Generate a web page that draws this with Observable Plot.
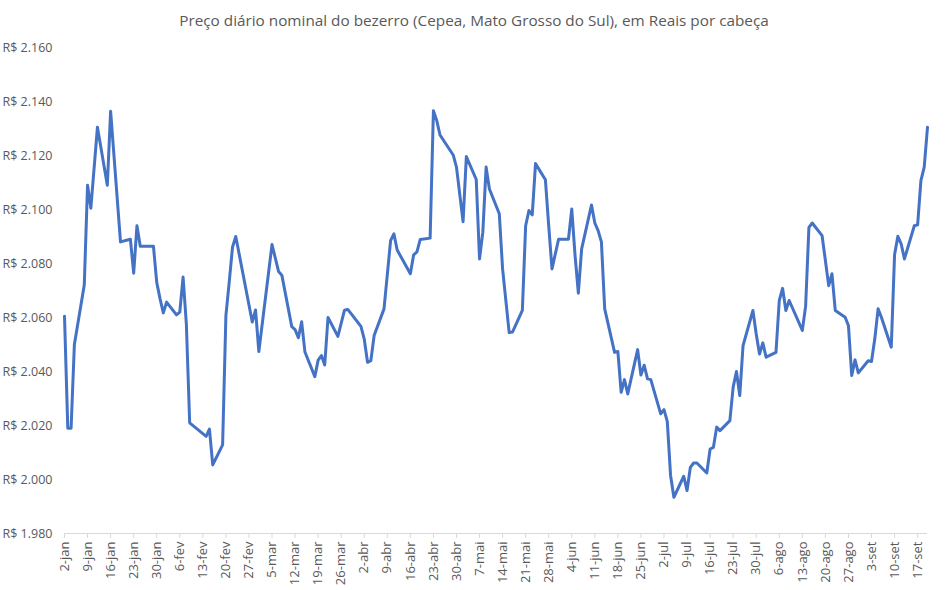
<!DOCTYPE html>
<html>
<head>
<meta charset="utf-8">
<script src="https://cdn.jsdelivr.net/npm/d3@7"></script>
<script src="https://cdn.jsdelivr.net/npm/@observablehq/plot@0.6"></script>
<style>
  html, body { margin: 0; padding: 0; background: #fff; }
  #title { width: 948px; height: 32px; padding-top: 8px; box-sizing: border-box; line-height: 24px;
           text-align: center; font-family: "Open Sans", sans-serif; font-size: 15.3px; color: #595959; }
</style>
</head>
<body>
<div id="title">Preço diário nominal do bezerro (Cepea, Mato Grosso do Sul), em Reais por cabeça</div>
<div id="chart"></div>
<script>
const dates = [
  "2024-01-02","2024-01-03","2024-01-04","2024-01-05","2024-01-08","2024-01-09","2024-01-10","2024-01-12",
  "2024-01-15","2024-01-16","2024-01-19","2024-01-22","2024-01-23","2024-01-24","2024-01-25","2024-01-29",
  "2024-01-30","2024-01-31","2024-02-01","2024-02-02","2024-02-05","2024-02-06","2024-02-07","2024-02-08",
  "2024-02-09","2024-02-14","2024-02-15","2024-02-16","2024-02-19","2024-02-20","2024-02-21","2024-02-22",
  "2024-02-23","2024-02-28","2024-02-29","2024-03-01","2024-03-05","2024-03-07","2024-03-08","2024-03-11",
  "2024-03-12","2024-03-13","2024-03-14","2024-03-15","2024-03-18","2024-03-19","2024-03-20","2024-03-21",
  "2024-03-22","2024-03-25","2024-03-27","2024-03-28","2024-04-01","2024-04-02","2024-04-03","2024-04-04",
  "2024-04-05","2024-04-08","2024-04-10","2024-04-11","2024-04-12","2024-04-16","2024-04-17","2024-04-18",
  "2024-04-19","2024-04-22","2024-04-23","2024-04-24","2024-04-25","2024-04-29","2024-04-30","2024-05-02",
  "2024-05-03","2024-05-06","2024-05-07","2024-05-08","2024-05-09","2024-05-10","2024-05-13","2024-05-14",
  "2024-05-16","2024-05-17","2024-05-20","2024-05-21","2024-05-22","2024-05-23","2024-05-24","2024-05-27",
  "2024-05-28","2024-05-29","2024-05-31","2024-06-03","2024-06-04","2024-06-05","2024-06-06","2024-06-07",
  "2024-06-10","2024-06-11","2024-06-12","2024-06-13","2024-06-14","2024-06-17","2024-06-18","2024-06-19",
  "2024-06-20","2024-06-21","2024-06-24","2024-06-25","2024-06-26","2024-06-27","2024-06-28","2024-07-01",
  "2024-07-02","2024-07-03","2024-07-04","2024-07-05","2024-07-08","2024-07-09","2024-07-10","2024-07-11",
  "2024-07-12","2024-07-15","2024-07-16","2024-07-17","2024-07-18","2024-07-19","2024-07-22","2024-07-23",
  "2024-07-24","2024-07-25","2024-07-26","2024-07-29","2024-07-30","2024-07-31","2024-08-01","2024-08-02",
  "2024-08-05","2024-08-06","2024-08-07","2024-08-08","2024-08-09","2024-08-13","2024-08-14","2024-08-15",
  "2024-08-16","2024-08-19","2024-08-20","2024-08-21","2024-08-22","2024-08-23","2024-08-26","2024-08-27",
  "2024-08-28","2024-08-29","2024-08-30","2024-09-02","2024-09-03","2024-09-04","2024-09-05","2024-09-06",
  "2024-09-09","2024-09-10","2024-09-11","2024-09-12","2024-09-13","2024-09-16","2024-09-17","2024-09-18",
  "2024-09-19","2024-09-20"
];
const prices = [
  2060.5,2019,2019,2050,2072,2109,2100.5,2130.5,
  2109,2136.4,2088,2089,2076.4,2094,2086.4,2086.4,
  2073,2067,2061.7,2065.7,2061,2062,2075,2057.5,
  2021,2016,2018.7,2005.4,2012.8,2060.7,2073,2086,
  2090,2058.3,2062.8,2047.4,2087,2077,2075.6,2056.6,
  2055.5,2052.5,2058.4,2047.2,2038.1,2044.2,2045.9,2042.4,
  2060,2053,2062.7,2063,2056.7,2052,2043.4,2044,
  2053.3,2063.2,2088.5,2091,2085,2076.2,2083.2,2084.3,
  2088.9,2089.4,2136.6,2133,2127.6,2120.2,2115.7,2095.5,
  2119.6,2111.1,2081.7,2091.6,2115.7,2107.6,2098.4,2078,
  2054.4,2054.6,2062.6,2094,2099.6,2098,2117,2111,
  2094,2078,2089,2089,2100.2,2083,2069,2085.4,
  2101.7,2095,2092.2,2088,2063.2,2047.1,2047.4,2032.3,
  2037,2031.7,2048.1,2038.7,2042.3,2037.3,2037,2024.3,
  2025.9,2021.5,2001.5,1993.4,2001.2,1995.9,2004.5,2006.1,
  2006.1,2002.4,2011.3,2011.9,2019.4,2018.1,2021.8,2034.2,
  2040,2031.1,2049.6,2062.6,2053.9,2046.5,2050.6,2045.3,
  2047.1,2066.3,2070.8,2062.6,2066.3,2055.2,2064.2,2093.4,
  2095,2090.3,2081.1,2071.8,2076.2,2062.6,2060.1,2057,
  2038.5,2044.3,2039.5,2044,2043.7,2052.1,2063.2,2060.1,
  2049,2083.2,2090.1,2087.3,2081.7,2094,2094.3,2110.7,
  2115.7,2130.5
];
const yTicks = [1980, 2000, 2020, 2040, 2060, 2080, 2100, 2120, 2140, 2160];
const monthNames = ["jan","fev","mar","abr","mai","jun","jul","ago","set","out","nov","dez"];
const xStart = "2024-01-02", xEnd = "2024-09-20", lastTick = "2024-09-17";

const data = dates.map((d, i) => ({date: new Date(d + "T00:00:00Z"), price: prices[i]}));
const xTicks = d3.utcTuesday.range(new Date(xStart + "T00:00:00Z"), new Date(lastTick + "T12:00:00Z"));
const brl = d3.formatLocale({decimal: ",", thousands: ".", grouping: [3], currency: ["R$ ", ""]}).format("$,.0f");
const fmtX = d => `${d.getUTCDate()}-${monthNames[d.getUTCMonth()]}`;

const chart = Plot.plot({
  width: 948,
  height: 558,
  marginLeft: 64,
  marginRight: 21,
  marginTop: 15,
  marginBottom: 57,
  style: {fontFamily: "'Open Sans', sans-serif", fontSize: "13px", color: "#595959", background: "#fff"},
  x: {type: "utc", domain: [new Date(xStart + "T00:00:00Z"), new Date(xEnd + "T00:00:00Z")]},
  y: {domain: [1980, 2160]},
  marks: [
    Plot.axisY({ticks: yTicks, tickSize: 0, tickPadding: 0, textAnchor: "start", dx: -62, tickFormat: brl, fill: "#595959", fontSize: 12.5, label: null}),
    Plot.ruleY([1980], {stroke: "#d9d9d9", strokeWidth: 1}),
    Plot.axisX({ticks: xTicks, tickFormat: fmtX, tickSize: 5, tickPadding: 3, tickRotate: -90, stroke: "#d9d9d9", fill: "#595959", fontSize: 13, label: null}),
    Plot.lineY(data, {x: "date", y: "price", stroke: "#4472C4", strokeWidth: 3, strokeLinejoin: "round"})
  ]
});
document.getElementById("chart").appendChild(chart);
</script>
</body>
</html>
